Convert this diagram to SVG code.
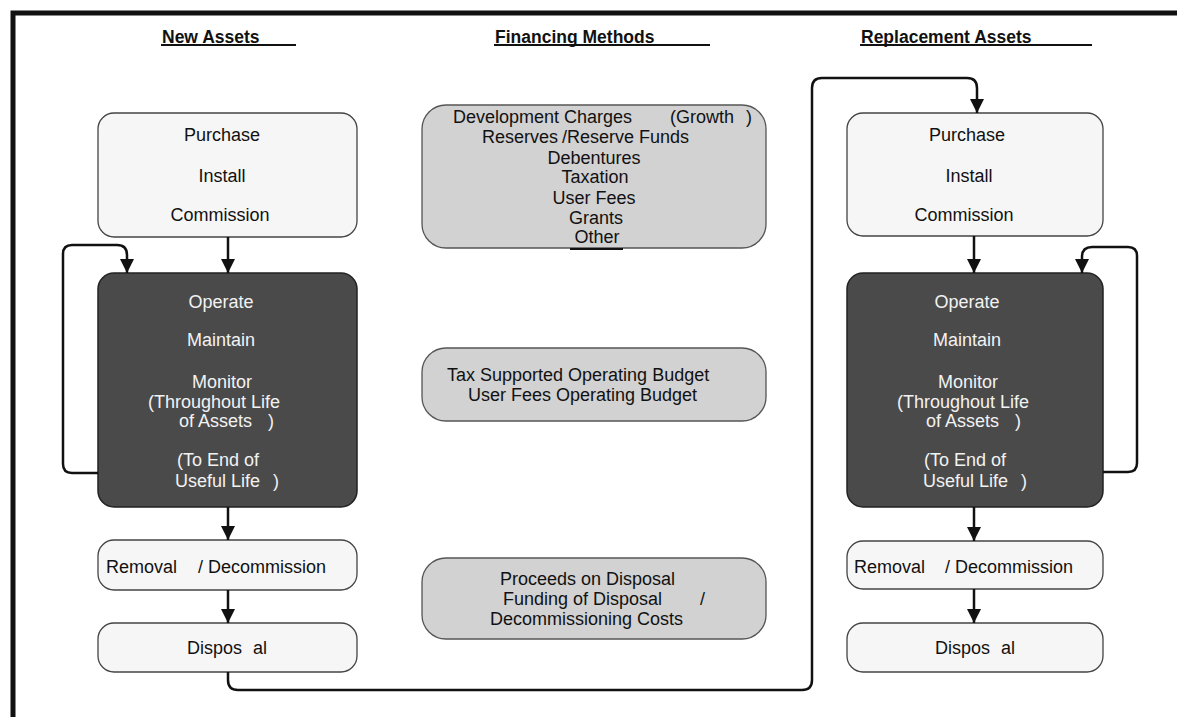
<svg xmlns="http://www.w3.org/2000/svg" width="1177" height="717" viewBox="0 0 1177 717">
<defs>
<style>
text{font-family:"Liberation Sans",Arial,sans-serif;font-size:18px;fill:#111}
.h{font-weight:bold;font-size:17.5px}
.w{fill:#f2f2f2}
.c{text-anchor:middle}
.lt{fill:#f6f6f6;stroke:#444;stroke-width:1.3}
.dk{fill:#4a4a4a;stroke:#222;stroke-width:1.5}
.md{fill:#d2d2d2;stroke:#555;stroke-width:1.3}
.ln{fill:none;stroke:#111;stroke-width:2.5}
.ul{stroke:#111;stroke-width:2}
</style>
<marker id="ah" markerUnits="userSpaceOnUse" markerWidth="14" markerHeight="14" viewBox="0 0 10 10" refX="10" refY="5" orient="auto">
<path d="M0,0 L10,5 L0,10 z" fill="#111"/>
</marker>
</defs>
<rect width="1177" height="717" fill="#fff"/>
<path d="M13,717 V13 H1177" fill="none" stroke="#111" stroke-width="5"/>

<g id="headers">
<text class="h" x="162" y="43">New Assets</text>
<line class="ul" x1="161" y1="45" x2="296" y2="45"/>
<text class="h" x="495" y="43">Financing Methods</text>
<line class="ul" x1="494" y1="45" x2="710" y2="45"/>
<text class="h" x="861" y="43">Replacement Assets</text>
<line class="ul" x1="860" y1="45" x2="1092" y2="45"/>
</g>

<g id="new-purchase">
<rect class="lt" x="98" y="113" width="259" height="124" rx="16"/>
<text class="c" x="222" y="141">Purchase</text>
<text class="c" x="222" y="182">Install</text>
<text class="c" x="220" y="221">Commission</text>
</g>
<g id="new-operate">
<rect class="dk" x="98" y="273" width="259" height="234" rx="16"/>
<text class="w c" x="221" y="308">Operate</text>
<text class="w c" x="221" y="346">Maintain</text>
<text class="w c" x="222" y="388">Monitor</text>
<text class="w" x="148" y="408">(Throughout Life</text>
<text class="w" x="179" y="427">of Assets</text><text class="w" x="268" y="427">)</text>
<text class="w" x="177" y="466">(To End of</text>
<text class="w" x="175" y="487">Useful Life</text><text class="w" x="273" y="487">)</text>
</g>
<g id="new-removal">
<rect class="lt" x="98" y="540" width="259" height="50" rx="16"/>
<text x="106" y="573">Removal</text><text x="198" y="573">/ Decommission</text>
</g>
<g id="new-disposal">
<rect class="lt" x="98" y="623" width="259" height="49" rx="16"/>
<text x="187" y="654">Dispos</text><text x="253" y="654">al</text>
</g>

<g id="fin-capital">
<rect class="md" x="422" y="105" width="344" height="143" rx="24"/>
<text x="453" y="123">Development Charges</text><text x="670" y="123">(Growth</text><text x="746" y="123">)</text>
<text x="482" y="143">Reserves</text><text x="562" y="143">/Reserve Funds</text>
<text class="c" x="594" y="164">Debentures</text>
<text class="c" x="595" y="183">Taxation</text>
<text class="c" x="594" y="204">User Fees</text>
<text class="c" x="596" y="224">Grants</text>
<text class="c" x="597" y="243">Other</text>
<line class="ul" x1="570" y1="249" x2="623" y2="249"/>
</g>
<g id="fin-operating">
<rect class="md" x="422" y="348" width="344" height="73" rx="24"/>
<text x="447" y="381">Tax Supported Operating Budget</text>
<text x="468" y="401">User Fees Operating Budget</text>
</g>
<g id="fin-disposal">
<rect class="md" x="422" y="558" width="344" height="81" rx="24"/>
<text x="500" y="585">Proceeds on Disposal</text>
<text x="503" y="605">Funding of Disposal</text><text x="700" y="605">/</text>
<text x="490" y="625">Decommissioning Costs</text>
</g>

<g id="rep-purchase">
<rect class="lt" x="847" y="113" width="256" height="123" rx="16"/>
<text class="c" x="967" y="141">Purchase</text>
<text class="c" x="969" y="182">Install</text>
<text class="c" x="964" y="221">Commission</text>
</g>
<g id="rep-operate">
<rect class="dk" x="847" y="273" width="256" height="234" rx="16"/>
<text class="w c" x="967" y="308">Operate</text>
<text class="w c" x="967" y="346">Maintain</text>
<text class="w c" x="968" y="388">Monitor</text>
<text class="w" x="897" y="408">(Throughout Life</text>
<text class="w" x="926" y="427">of Assets</text><text class="w" x="1015" y="427">)</text>
<text class="w" x="924" y="466">(To End of</text>
<text class="w" x="923" y="487">Useful Life</text><text class="w" x="1021" y="487">)</text>
</g>
<g id="rep-removal">
<rect class="lt" x="847" y="541" width="256" height="48" rx="16"/>
<text x="854" y="573">Removal</text><text x="945" y="573">/ Decommission</text>
</g>
<g id="rep-disposal">
<rect class="lt" x="847" y="623" width="256" height="49" rx="16"/>
<text x="935" y="654">Dispos</text><text x="1001" y="654">al</text>
</g>

<g id="connectors">
<path class="ln" d="M228,237 V273" marker-end="url(#ah)"/>
<path class="ln" d="M228,507 V540" marker-end="url(#ah)"/>
<path class="ln" d="M228,590 V623" marker-end="url(#ah)"/>
<path class="ln" d="M98,473 H72 Q63,473 63,464 V254 Q63,245 72,245 H117 Q127,245 127,255 V273" marker-end="url(#ah)"/>
<path class="ln" d="M228,672 V680 Q228,690 238,690 H802 Q812,690 812,680 V88 Q812,78 822,78 H967 Q977,78 977,88 V113" marker-end="url(#ah)"/>
<path class="ln" d="M974,236 V273" marker-end="url(#ah)"/>
<path class="ln" d="M974,507 V541" marker-end="url(#ah)"/>
<path class="ln" d="M974,589 V623" marker-end="url(#ah)"/>
<path class="ln" d="M1103,472 H1128 Q1137,472 1137,463 V256 Q1137,247 1128,247 H1092 Q1082,247 1082,257 V273" marker-end="url(#ah)"/>
</g>
</svg>
